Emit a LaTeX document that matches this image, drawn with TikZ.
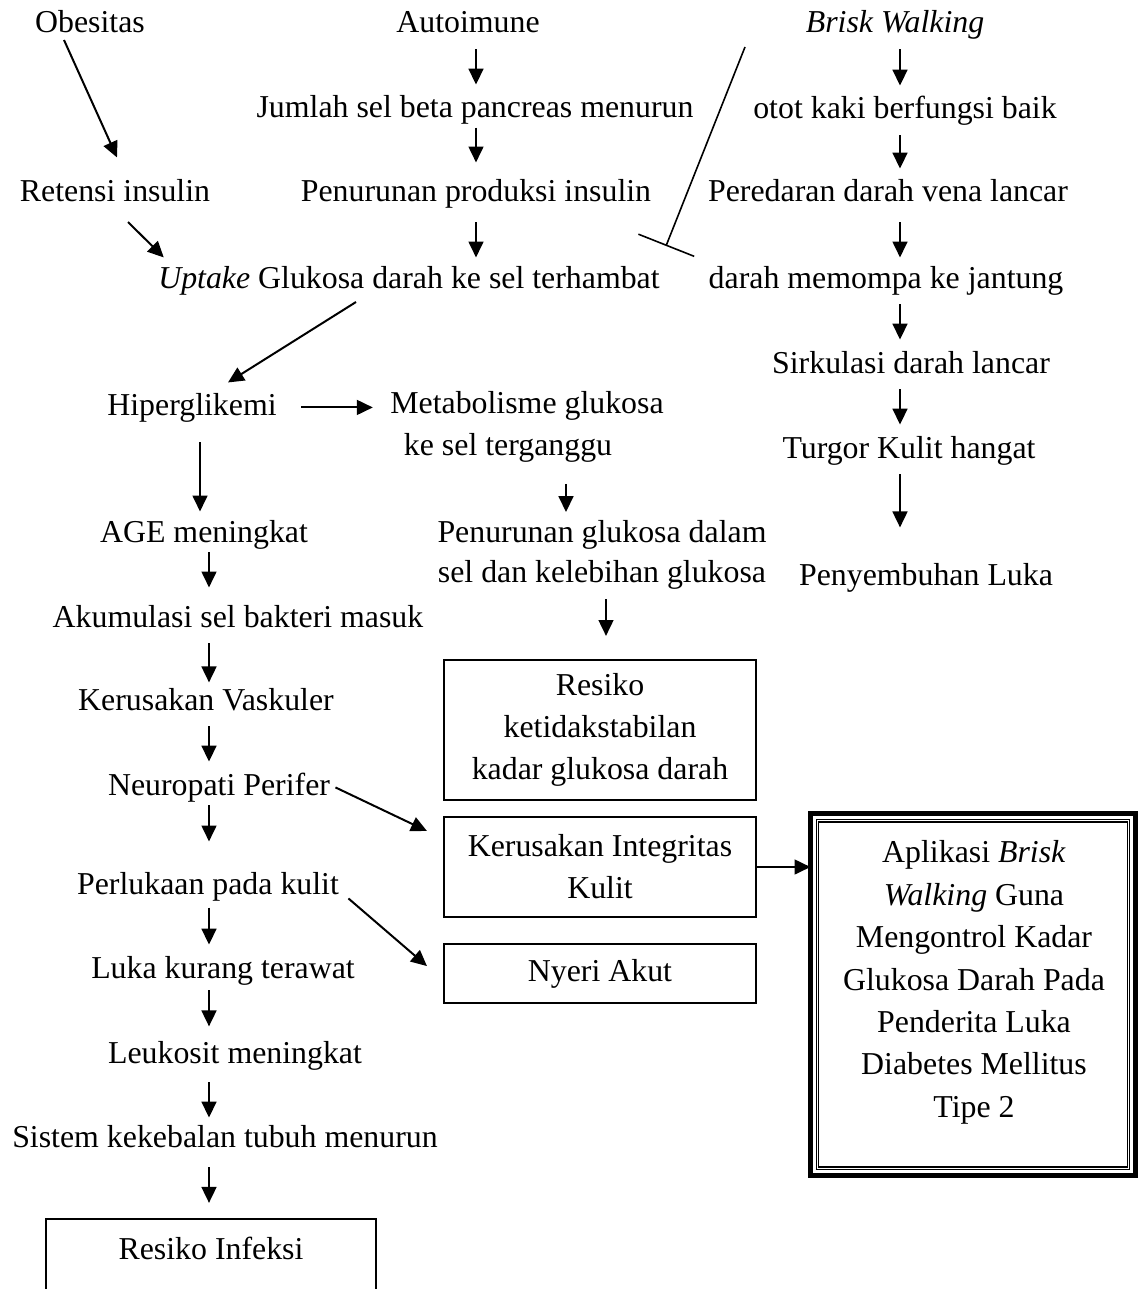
\documentclass[tikz,border=0pt]{standalone}
\usepackage{fontspec}
\setmainfont{Liberation Serif}
\usetikzlibrary{arrows.meta, calc}

\begin{document}
\begin{tikzpicture}[x=0.3768pt, y=-0.3768pt,
    teks/.style={font=\fontsize{12pt}{15.8pt}\selectfont, inner sep=0pt, text height=8.3pt, text depth=2.6pt, anchor=base},
    teksdua/.style={font=\fontsize{12pt}{15.8pt}\selectfont, inner sep=0pt, align=center, anchor=north},
    kotak/.style={draw, line width=0.75pt, font=\fontsize{12pt}{15.8pt}\selectfont, inner sep=0pt, minimum width=117.6pt, align=center},
    bingkai/.style={draw, line width=1.9pt, inner sep=0pt, outer sep=0pt, minimum width=122.5pt, minimum height=136.4pt},
    tipis/.style={line width=0.4pt},
    panah/.style={-{Triangle[length=6pt, width=5.6pt]}, line width=0.75pt},
    tegak/.style={panah, shorten <=3.4pt, shorten >=4.1pt}
]
    \useasboundingbox (0,0) rectangle (1138,1289);
    \clip (0,0) rectangle (1138,1289);

    % kolom panah
    \coordinate (kolT) at (476,0);
    \coordinate (kolK) at (900,0);
    \coordinate (kolH) at (200,0);
    \coordinate (kolA) at (209,0);
    \coordinate (kolM) at (566,0);
    \coordinate (kolR) at (606,0);

    % Baris atas
    \node[teks] (obesitas) at (90,33) {Obesitas};
    \node[teks] (autoimun) at (468,33) {Autoimune};
    \node[teks] (brisk) at (895,33) {\textit{Brisk Walking}};
    \node[teks] (jumlah) at (475,118) {Jumlah sel beta pancreas menurun};
    \node[teks] (otot) at (905,119) {otot kaki berfungsi baik};
    \node[teks] (retensi) at (115,202) {Retensi insulin};
    \node[teks] (produksi) at (476,202) {Penurunan produksi insulin};
    \node[teks] (peredaran) at (888,202) {Peredaran darah vena lancar};
    \node[teks] (uptake) at (409,288) {\textit{Uptake} Glukosa darah ke sel terhambat};
    \node[teks] (memompa) at (886,288) {darah memompa ke jantung};

    % Brisk walking
    \node[teks] (sirkulasi) at (911,373) {Sirkulasi darah lancar};
    \node[teks] (turgor) at (909,458) {Turgor Kulit hangat};
    \node[teks] (sembuh) at (926,585) {Penyembuhan Luka};

    % Hiperglikemi
    \node[teks] (hiper) at (192,415) {Hiperglikemi};
    \node[teksdua] (metabolisme) at (527,391) {Metabolisme glukosa\\ke sel terganggu\rule{14.3pt}{0pt}};
    \node[teks] (age) at (204,542) {AGE meningkat};
    \node[teksdua] (penurunan) at (602,520) {Penurunan glukosa dalam\\[-0.75pt]sel dan kelebihan glukosa};
    \node[teks] (akumulasi) at (238,627) {Akumulasi sel bakteri masuk};
    \node[teks] (vaskuler) at (206,710) {Kerusakan Vaskuler};
    \node[teks] (neuropati) at (219,795) {Neuropati Perifer};
    \node[teks] (perlukaan) at (208,894) {Perlukaan pada kulit};
    \node[teks] (luka) at (223,978) {Luka kurang terawat};
    \node[teks] (leukosit) at (235,1063) {Leukosit meningkat};
    \node[teks] (imun) at (225,1147) {Sistem kekebalan tubuh menurun};

    % Diagnosa
    \node[kotak, minimum height=52.75pt] (ketidakstabilan) at (600,730) {Resiko\\ketidakstabilan\\kadar glukosa darah};
    \node[kotak, minimum height=37.7pt] (integritas) at (600,867) {Kerusakan Integritas\\Kulit};
    \node[kotak, minimum height=22.2pt] (nyeri) at (600,973.5) {Nyeri Akut};
    \node[kotak, minimum width=124.3pt, inner ysep=6.8pt, anchor=north] (infeksi) at (211,1218) {Resiko Infeksi\\\mbox{}};

    % Judul
    \node[bingkai] (bingkai) at (973,994.5) {};
    \draw[tipis] ([shift={(6,6)}]bingkai.north west) rectangle ([shift={(-6,-6)}]bingkai.south east);
    \draw[tipis] ([shift={(8.5,8.5)}]bingkai.north west) rectangle ([shift={(-8.5,-8.5)}]bingkai.south east);
    \node[teksdua, font=\fontsize{12pt}{16pt}\selectfont] (aplikasi) at (974,840) {Aplikasi \textit{Brisk}\\\textit{Walking} Guna\\Mengontrol Kadar\\Glukosa Darah Pada\\Penderita Luka\\Diabetes Mellitus\\Tipe 2};

    % Panah
    \draw[tegak] (autoimun.south -| kolT) -- (jumlah.north -| kolT);
    \draw[tegak, shorten <=0.8pt, shorten >=6.4pt] (jumlah.south -| kolT) -- (produksi.north -| kolT);
    \draw[tegak, shorten <=4.9pt, shorten >=3pt] (produksi.south -| kolT) -- (uptake.north -| kolT);

    \draw[tegak] (brisk.south -| kolK) -- (otot.north -| kolK);
    \draw[tegak] (otot.south -| kolK) -- (peredaran.north -| kolK);
    \draw[tegak, shorten <=4.9pt, shorten >=3pt] (peredaran.south -| kolK) -- (memompa.north -| kolK);
    \draw[tegak] (memompa.south -| kolK) -- (sirkulasi.north -| kolK);
    \draw[tegak] (sirkulasi.south -| kolK) -- (turgor.north -| kolK);
    \draw[tegak, shorten >=13.2pt] (turgor.south -| kolK) -- (sembuh.north -| kolK);

    \draw[tegak, shorten <=7.5pt, shorten >=3pt] (hiper.south -| kolH) -- (age.north -| kolH);
    \draw[tegak, shorten <=1.1pt, shorten >=6.4pt] (age.south -| kolA) -- (akumulasi.north -| kolA);
    \draw[tegak, shorten >=1.9pt] (akumulasi.south -| kolA) -- (vaskuler.north -| kolA);
    \draw[tegak] (vaskuler.south -| kolA) -- (neuropati.north -| kolA);
    \draw[tegak, shorten <=1.1pt, shorten >=11.3pt] (neuropati.south -| kolA) -- (perlukaan.north -| kolA);
    \draw[tegak, shorten <=2.3pt] (perlukaan.south -| kolA) -- (luka.north -| kolA);
    \draw[tegak, shorten <=1.9pt, shorten >=5.3pt] (luka.south -| kolA) -- (leukosit.north -| kolA);
    \draw[tegak, shorten <=4.5pt, shorten >=2.6pt] (leukosit.south -| kolA) -- (imun.north -| kolA);
    \draw[tegak, shorten <=4.9pt, shorten >=5.7pt] (imun.south -| kolA) -- (infeksi.north -| kolA);

    \draw[tegak, shorten <=7.9pt, shorten >=3pt] (metabolisme.south -| kolM) -- (penurunan.north -| kolM);
    \draw[tegak, shorten >=8.7pt] (penurunan.south -| kolR) -- (ketidakstabilan.north -| kolR);

    \draw[panah] ($(obesitas.base)+(-26,7)$) -- ($(retensi.north)+(2,-22)$);
    \draw[panah] ($(retensi.base)+(13,20)$) -- ($(uptake.north west)+(6,-8)$);
    \draw[panah] ($(uptake.base)+(-53,14)$) -- ($(hiper.north)+(36,-10)$);
    \draw[panah] ($(hiper.east)+(24,0)$) -- ($(hiper.east -| metabolisme.west)+(-17,0)$);
    \draw[panah] ($(neuropati.east)+(5,0)$) -- ($(integritas.north west)+(-16,15)$);
    \draw[panah] ($(perlukaan.south east)+(9,-3)$) -- ($(nyeri.north west)+(-16,23)$);
    \draw[panah] (integritas.east) -- (integritas.east -| bingkai.west);

    % Hambatan
    \coordinate (hambatA) at (745,47);
    \coordinate (hambatB) at (666,246);
    \draw[line width=0.6pt, -{Bar[width=22.6pt]}] (hambatA) -- (hambatB);
\end{tikzpicture}
\end{document}
